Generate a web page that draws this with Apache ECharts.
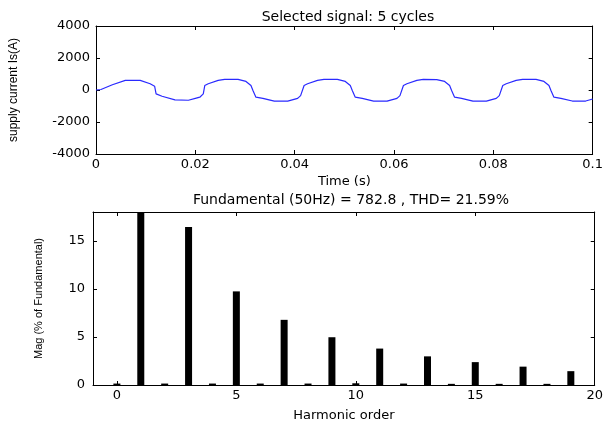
<!DOCTYPE html>
<html>
<head>
  <meta charset="UTF-8">
  <title>FFT analysis</title>
  <style>
    * { margin: 0; padding: 0; }
    html, body { width: 100%; height: 100%; background: #fff; }
    #chart { width: 606px; height: 423px; }
  </style>
  <script src="https://cdn.jsdelivr.net/npm/echarts@6/dist/echarts.min.js"></script>
</head>
<body>
  <div id="chart"></div>
  <script>
    // supply current (time in s, current in A)
    var timeS = [
      0.0000, 0.0010, 0.0033, 0.0059, 0.0089, 0.0109, 0.0118, 0.0121, 0.0133, 0.0159, 0.0186, 0.0200,
      0.0209, 0.0216, 0.0219, 0.0226, 0.0246, 0.0259, 0.0286, 0.0302, 0.0312, 0.0316, 0.0322, 0.0336, 0.0359, 0.0386, 0.0406, 0.0412,
      0.0419, 0.0426, 0.0446, 0.0459, 0.0486, 0.0502, 0.0512, 0.0516, 0.0522, 0.0536, 0.0559, 0.0586, 0.0606, 0.0612,
      0.0619, 0.0626, 0.0646, 0.0659, 0.0686, 0.0702, 0.0712, 0.0716, 0.0722, 0.0736, 0.0759, 0.0786, 0.0806, 0.0812,
      0.0819, 0.0826, 0.0846, 0.0859, 0.0886, 0.0902, 0.0912, 0.0916, 0.0922, 0.0936, 0.0959, 0.0986, 0.1000
    ];
    var currentA = [
      0, 30, 330, 600, 600, 390, 240, -240, -390, -620, -640, -520,
      -450, -240, 280, 390, 600, 660, 660, 535, 280, -30, -450, -520, -700, -700, -520, -350,
      280, 390, 600, 660, 660, 535, 280, -30, -450, -520, -700, -700, -520, -350,
      280, 390, 600, 660, 650, 535, 280, -30, -450, -520, -700, -700, -520, -350,
      280, 390, 600, 660, 660, 535, 280, -30, -450, -520, -690, -690, -560
    ];

    // harmonic spectrum, % of fundamental (fundamental bar runs off the top)
    var harmonicOrder = [0, 1, 2, 3, 4, 5, 6, 7, 8, 9, 10, 11, 12, 13, 14, 15, 16, 17, 18, 19];
    var harmonicMag = [0.15, 100, 0.15, 16.45, 0.15, 9.74, 0.15, 6.78, 0.15, 4.97,
                       0.18, 3.79, 0.15, 2.98, 0.12, 2.38, 0.12, 1.91, 0.12, 1.44];

    var orderTicks = [0, 5, 10, 15, 20];
    var magTicks = [0, 5, 10, 15];

    var font = 'DejaVu Sans';
    var chart = echarts.init(document.getElementById('chart'));

    var axisLine = { show: true, onZero: false, lineStyle: { color: '#000', width: 1 } };

    // plain axis on the far side of a grid, so the plot gets a closed box with ticks
    function boxAxis(gridIndex, extra) {
      return Object.assign({
        type: 'value',
        gridIndex: gridIndex,
        axisLine: axisLine,
        axisTick: { show: true, inside: true, length: 4, lineStyle: { color: '#000' } },
        axisLabel: { show: false },
        splitLine: { show: false }
      }, extra);
    }

    var labelStyle = { color: '#000', fontFamily: font, fontSize: 13 };
    var titleStyle = { fontFamily: font, fontSize: 14, fontWeight: 'normal', color: '#000' };

    var option = {
      backgroundColor: '#fff',
      animation: false,
      title: [
        { text: 'Selected signal: 5 cycles', left: 343, top: 5, textAlign: 'center', textStyle: titleStyle },
        { text: 'Fundamental (50Hz) = 782.8 , THD= 21.59%', left: 346, top: 188, textAlign: 'center', textStyle: titleStyle }
      ],
      grid: [
        { left: 93, top: 26, right: 11, height: 128 },
        { left: 93, top: 212, right: 5, height: 178 }
      ],
      xAxis: [
        {
          type: 'value', gridIndex: 0, min: 0, max: 0.1, interval: 0.02,
          name: 'Time (s)', nameLocation: 'middle', nameGap: 21,
          nameTextStyle: labelStyle,
          axisLine: axisLine,
          axisTick: { inside: true, length: 4, lineStyle: { color: '#000' } },
          axisLabel: Object.assign({ margin: 4, formatter: function (v) { return String(+v.toFixed(2)); } }, labelStyle),
          splitLine: { show: false }
        },
        boxAxis(0, { position: 'top', min: 0, max: 0.1, interval: 0.02 }),
        {
          type: 'value', gridIndex: 1, min: -1, max: 20,
          name: 'Harmonic order', nameLocation: 'middle', nameGap: 24,
          nameTextStyle: labelStyle,
          axisLine: axisLine,
          axisTick: { inside: true, length: 4, customValues: orderTicks, lineStyle: { color: '#000' } },
          axisLabel: Object.assign({ margin: 4, customValues: orderTicks }, labelStyle),
          splitLine: { show: false }
        },
        boxAxis(1, { position: 'top', min: -1, max: 20,
          axisTick: { show: true, inside: true, length: 4, customValues: orderTicks, lineStyle: { color: '#000' } } })
      ],
      yAxis: [
        {
          type: 'value', gridIndex: 0, min: -4000, max: 4000, interval: 2000,
          name: 'supply current Is(A)', nameLocation: 'middle', nameGap: 76,
          nameTextStyle: { color: '#000', fontFamily: 'Liberation Sans', fontSize: 12 },
          axisLine: axisLine,
          axisTick: { inside: true, length: 4, lineStyle: { color: '#000' } },
          axisLabel: Object.assign({ margin: 6, formatter: function (v) { return String(v); } }, labelStyle),
          splitLine: { show: false }
        },
        boxAxis(0, { position: 'right', min: -4000, max: 4000, interval: 2000 }),
        {
          type: 'value', gridIndex: 1, min: 0, max: 18,
          name: 'Mag (% of Fundamental)', nameLocation: 'middle', nameGap: 49,
          nameTextStyle: { color: '#000', fontFamily: 'Liberation Sans', fontSize: 11 },
          axisLine: axisLine,
          axisTick: { inside: true, length: 4, customValues: magTicks, lineStyle: { color: '#000' } },
          axisLabel: Object.assign({ margin: 8, customValues: magTicks }, labelStyle),
          splitLine: { show: false }
        },
        boxAxis(1, { position: 'right', min: 0, max: 18,
          axisTick: { show: true, inside: true, length: 4, customValues: magTicks, lineStyle: { color: '#000' } } })
      ],
      series: [
        {
          type: 'line', xAxisIndex: 0, yAxisIndex: 0,
          data: timeS.map(function (t, i) { return [t, currentA[i]]; }),
          showSymbol: false, symbol: 'none',
          lineStyle: { color: '#2a2aff', width: 1.2 }
        },
        {
          type: 'bar', xAxisIndex: 2, yAxisIndex: 2, clip: true,
          data: harmonicOrder.map(function (h, i) { return [h, harmonicMag[i]]; }),
          barWidth: 7,
          itemStyle: { color: '#000' }
        }
      ]
    };
    chart.setOption(option);
  </script>
</body>
</html>
